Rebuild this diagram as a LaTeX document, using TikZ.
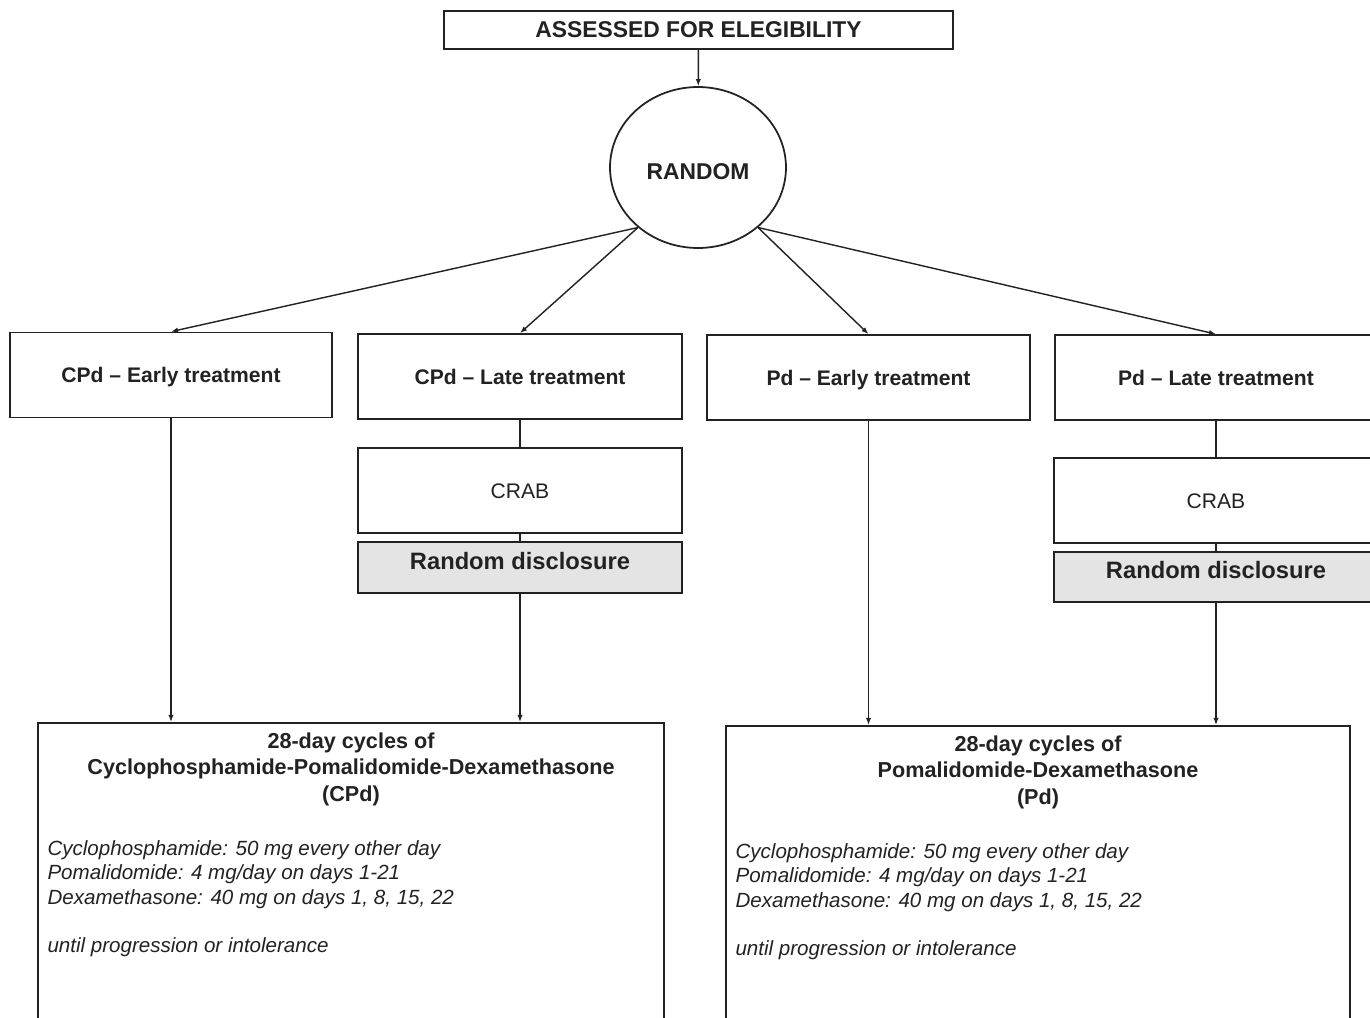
\documentclass[tikz,border=0pt]{standalone}
\usepackage{fontspec}
\setmainfont{Liberation Sans}
\usepackage{tikz}
\usetikzlibrary{shapes.geometric,arrows.meta,positioning,calc}
\definecolor{ink}{RGB}{34,34,34}
\definecolor{lightgray}{RGB}{228,228,228}

\begin{document}
\begin{tikzpicture}[x=0.02cm,y=-0.02cm,
  box/.style={draw=ink,line width=1pt,minimum height=1.7cm,align=center,inner sep=2pt,text=ink},
  armbox/.style={box,minimum width=6.46cm,text height=8.6pt,text depth=-1.5pt,font=\fontsize{12}{14}\selectfont\bfseries},
  crabbox/.style={box,minimum width=6.48cm,text height=8.6pt,text depth=-1.5pt,font=\fontsize{12}{14}\selectfont},
  discbox/.style={box,minimum width=6.48cm,minimum height=1.01cm,fill=lightgray,text height=9.7pt,text depth=8pt,font=\fontsize{13.5}{15}\selectfont\bfseries},
  regbox/.style={draw=ink,line width=1pt,minimum height=7cm,anchor=north},
  title/.style={anchor=north,align=center,inner sep=0pt,text=ink,font=\fontsize{12.3}{15.3}\selectfont\bfseries},
  dose/.style={anchor=north west,align=left,inner sep=0pt,text=ink,font=\fontsize{11.7}{13.9}\selectfont\itshape},
  arr/.style={-{Latex[length=4pt,width=3pt]},draw=ink,line width=0.8pt},
  link/.style={draw=ink,line width=0.8pt}
]
  \useasboundingbox (0,0) rectangle (1370,1018);
  \clip (0,0) rectangle (1370,1018);
  \fill[white] (0,0) rectangle (1370,1018);

  \node[box,minimum width=10.18cm,minimum height=0.76cm,font=\fontsize{13}{15}\selectfont\bfseries] (elig) at (698.5,30) {ASSESSED FOR ELEGIBILITY};
  \node[ellipse,draw=ink,line width=1pt,minimum width=3.52cm,minimum height=3.22cm,text=ink,text height=13.3pt,text depth=0pt,font=\fontsize{13}{15}\selectfont\bfseries] (rnd) at (698,167.5) {RANDOM};

  \node[armbox,minimum width=6.44cm] (ce) at (171,375) {CPd -- Early treatment};
  \node[armbox,minimum width=6.48cm] (cl) at (520,376.5) {CPd -- Late treatment};
  \node[armbox] (pe) at (868.5,377.5) {Pd -- Early treatment};
  \node[armbox,minimum width=6.44cm] (pl) at (1216,377.5) {Pd -- Late treatment};

  \node[crabbox] (crabl) at (520,490.5) {CRAB};
  \node[discbox] (discl) at (520,567.5) {Random disclosure};
  \node[crabbox] (crabr) at (1216,500.5) {CRAB};
  \node[discbox] (discr) at (1216,577) {Random disclosure};

  \node[regbox,minimum width=12.52cm] (cpd) at (351,722) {};
  \node[regbox,minimum width=12.48cm] (pd) at (1038,725) {};

  \node[title] (cpdtitle) at ($(cpd.north)+(0,10)$) {28-day cycles of\\Cyclophosphamide-Pomalidomide-Dexamethasone\\(CPd)};
  \node[dose] (cpddose) at ($(cpd.north west)+(10,118)$) {Cyclophosphamide: 50 mg every other day\\Pomalidomide: 4 mg/day on days 1-21\\Dexamethasone: 40 mg on days 1, 8, 15, 22\\[13.9pt]until progression or intolerance};
  \node[title] (pdtitle) at ($(pd.north)+(0,10)$) {28-day cycles of\\Pomalidomide-Dexamethasone\\(Pd)};
  \node[dose] (pddose) at ($(pd.north west)+(10,118)$) {Cyclophosphamide: 50 mg every other day\\Pomalidomide: 4 mg/day on days 1-21\\Dexamethasone: 40 mg on days 1, 8, 15, 22\\[13.9pt]until progression or intolerance};

  \draw[arr] (elig) -- (rnd);
  \draw[arr] (rnd.225) -- (ce.north);
  \draw[arr] (rnd.225) -- (cl.north);
  \draw[arr] (rnd.315) -- (pe.north);
  \draw[arr] (rnd.315) -- (pl.north);
  \draw[link] (cl) -- (crabl);
  \draw[link] (crabl) -- (discl);
  \draw[link] (pl) -- (crabr);
  \draw[link] (crabr) -- (discr);
  \draw[arr] (ce.south) -- (ce.south |- cpd.north);
  \draw[arr] (discl.south) -- (discl.south |- cpd.north);
  \draw[arr] (pe.south) -- (pe.south |- pd.north);
  \draw[arr] (discr.south) -- (discr.south |- pd.north);
\end{tikzpicture}
\end{document}
